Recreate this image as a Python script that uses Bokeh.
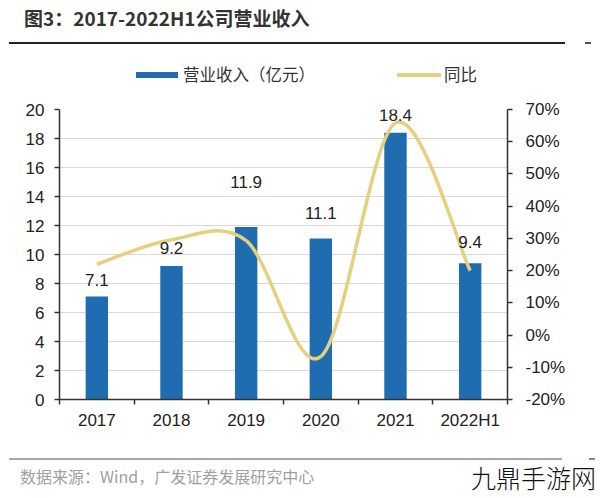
from bokeh.plotting import figure
from bokeh.models import Range1d, LinearAxis, FixedTicker, ColumnDataSource, Div
from bokeh.layouts import column
from bokeh.core.properties import value
from bokeh.embed import file_html
from bokeh.resources import INLINE

# ---- data ----
categories = ["2017", "2018", "2019", "2020", "2021", "2022H1"]
revenue = [7.1, 9.2, 11.9, 11.1, 18.4, 9.4]          # 亿元
yoy = [22.0, 29.6, 29.3, -6.7, 65.8, 20.0]           # %
left_ticks = [0, 2, 4, 6, 8, 10, 12, 14, 16, 18, 20]
right_ticks = [-20, -10, 0, 10, 20, 30, 40, 50, 60, 70]
series_names = ["营业收入（亿元）", "同比"]

BAR = "#1F6DB0"
LINE = "#E4D07D"
FONT = "Liberation Sans"
CJK = "Noto Sans CJK SC"

W = 584
p = figure(width=W, height=361, output_backend="svg", toolbar_location=None,
           x_range=Range1d(-0.5, 5.5), y_range=Range1d(0, 20),
           min_border_left=59, min_border_right=77, min_border_top=13, min_border_bottom=58)
p.outline_line_color = None
p.background_fill_color = "white"
p.extra_y_ranges = {"pct": Range1d(-20, 70)}

xs = list(range(len(categories)))
n = len(xs)
# label placement (pixel offsets above bar tops, as placed in the source chart)
label_gap_px = [17, 18, 45, 26, 18, 21]
src = ColumnDataSource(dict(x=xs, top=revenue, lab=[f"{v:.1f}" for v in revenue],
                            off=[-g for g in label_gap_px]))
bars = p.vbar(x="x", top="top", width=0.3, source=src, fill_color=BAR, line_color=None)

# smoothed line (Catmull-Rom rendered as cubic Beziers through the data points)
x0, y0, x1, y1, cx0, cy0, cx1, cy1 = [], [], [], [], [], [], [], []
for i in range(n - 1):
    pm = max(i - 1, 0)
    pp = min(i + 2, n - 1)
    x0.append(xs[i]); y0.append(yoy[i])
    x1.append(xs[i + 1]); y1.append(yoy[i + 1])
    cx0.append(xs[i] + (xs[i + 1] - xs[pm]) / 6.0)
    cy0.append(yoy[i] + (yoy[i + 1] - yoy[pm]) / 6.0)
    cx1.append(xs[i + 1] - (xs[pp] - xs[i]) / 6.0)
    cy1.append(yoy[i + 1] - (yoy[pp] - yoy[i]) / 6.0)
p.bezier(x0=x0, y0=y0, x1=x1, y1=y1, cx0=cx0, cy0=cy0, cx1=cx1, cy1=cy1,
         line_color=LINE, line_width=3.5, y_range_name="pct")

# data labels
p.text(x="x", y="top", text="lab", source=src, text_align="center", text_baseline="middle",
       y_offset="off", text_font_size="17px", text_font=value(FONT), text_color="#222222")

# grid
p.xgrid.grid_line_color = None
p.ygrid.grid_line_color = "#D9D9D9"
p.ygrid.grid_line_width = 1
p.ygrid.ticker = FixedTicker(ticks=left_ticks)

# axes
def style_axis(ax):
    ax.axis_line_color = "#333333"
    ax.axis_line_width = 1.5
    ax.major_tick_line_color = "#333333"
    ax.major_tick_line_width = 1.5
    ax.major_tick_in = 0
    ax.major_tick_out = 5
    ax.minor_tick_line_color = None
    ax.major_label_text_font = FONT
    ax.major_label_text_font_size = "17px"
    ax.major_label_text_color = "#222222"

ly = p.yaxis[0]
ly.ticker = FixedTicker(ticks=left_ticks)
style_axis(ly)
ly.major_label_standoff = 10

ry = LinearAxis(y_range_name="pct", ticker=FixedTicker(ticks=right_ticks))
ry.major_label_overrides = {t: f"{t}%" for t in right_ticks}
style_axis(ry)
ry.major_label_standoff = 13
p.add_layout(ry, "right")

bx = p.xaxis[0]
bx.ticker = FixedTicker(ticks=xs, minor_ticks=[i - 0.5 for i in range(n + 1)])
bx.major_label_overrides = {i: c for i, c in enumerate(categories)}
style_axis(bx)
bx.major_tick_out = 0
bx.minor_tick_line_color = "#333333"
bx.minor_tick_line_width = 1.5
bx.minor_tick_in = 0
bx.minor_tick_out = 5
bx.major_label_standoff = 6

cjk_css = "font-family:'Noto Sans CJK SC';white-space:nowrap;position:absolute;"
header = Div(width=W, height=86, text=(
    '<div style="position:relative;width:584px;height:86px;">'
    f'<div style="{cjk_css}left:19px;top:-1px;font-weight:bold;font-size:19px;color:#333;">'
    '图3：2017-2022H1公司营业收入</div>'
    '<div style="position:absolute;left:4px;top:37px;width:556px;height:2px;background:#222;"></div>'
    '<div style="position:absolute;left:580px;top:37px;width:6px;height:2px;background:#555;"></div>'
    # legend
    f'<div style="position:absolute;left:131px;top:67px;width:42px;height:6px;background:{BAR};"></div>'
    f'<div style="{cjk_css}left:178px;top:58px;font-size:16.5px;color:#333;">{series_names[0]}</div>'
    f'<div style="position:absolute;left:392px;top:68px;width:44px;height:4px;background:{LINE};"></div>'
    f'<div style="{cjk_css}left:439px;top:58px;font-size:16.5px;color:#333;">{series_names[1]}</div>'
    '</div>'))

footer = Div(width=W, height=33, text=(
    '<div style="position:relative;width:584px;height:33px;">'
    '<div style="position:absolute;left:4px;top:-4px;width:553px;height:2px;background:#A8A8A8;"></div>'
    '<div style="position:absolute;left:584px;top:-4px;width:6px;height:2px;background:#888;"></div>'
    f'<div style="{cjk_css}left:15px;top:3px;font-size:16px;color:#A0A0A0;">'
    '数据来源：Wind，广发证券发展研究中心</div>'
    f'<div style="{cjk_css}left:466px;top:-2px;font-size:25px;font-weight:300;color:#111;">九鼎手游网</div>'
    '</div>'))

layout = column(header, p, footer, spacing=0)
open("out.html", "w").write(file_html(layout, INLINE))
